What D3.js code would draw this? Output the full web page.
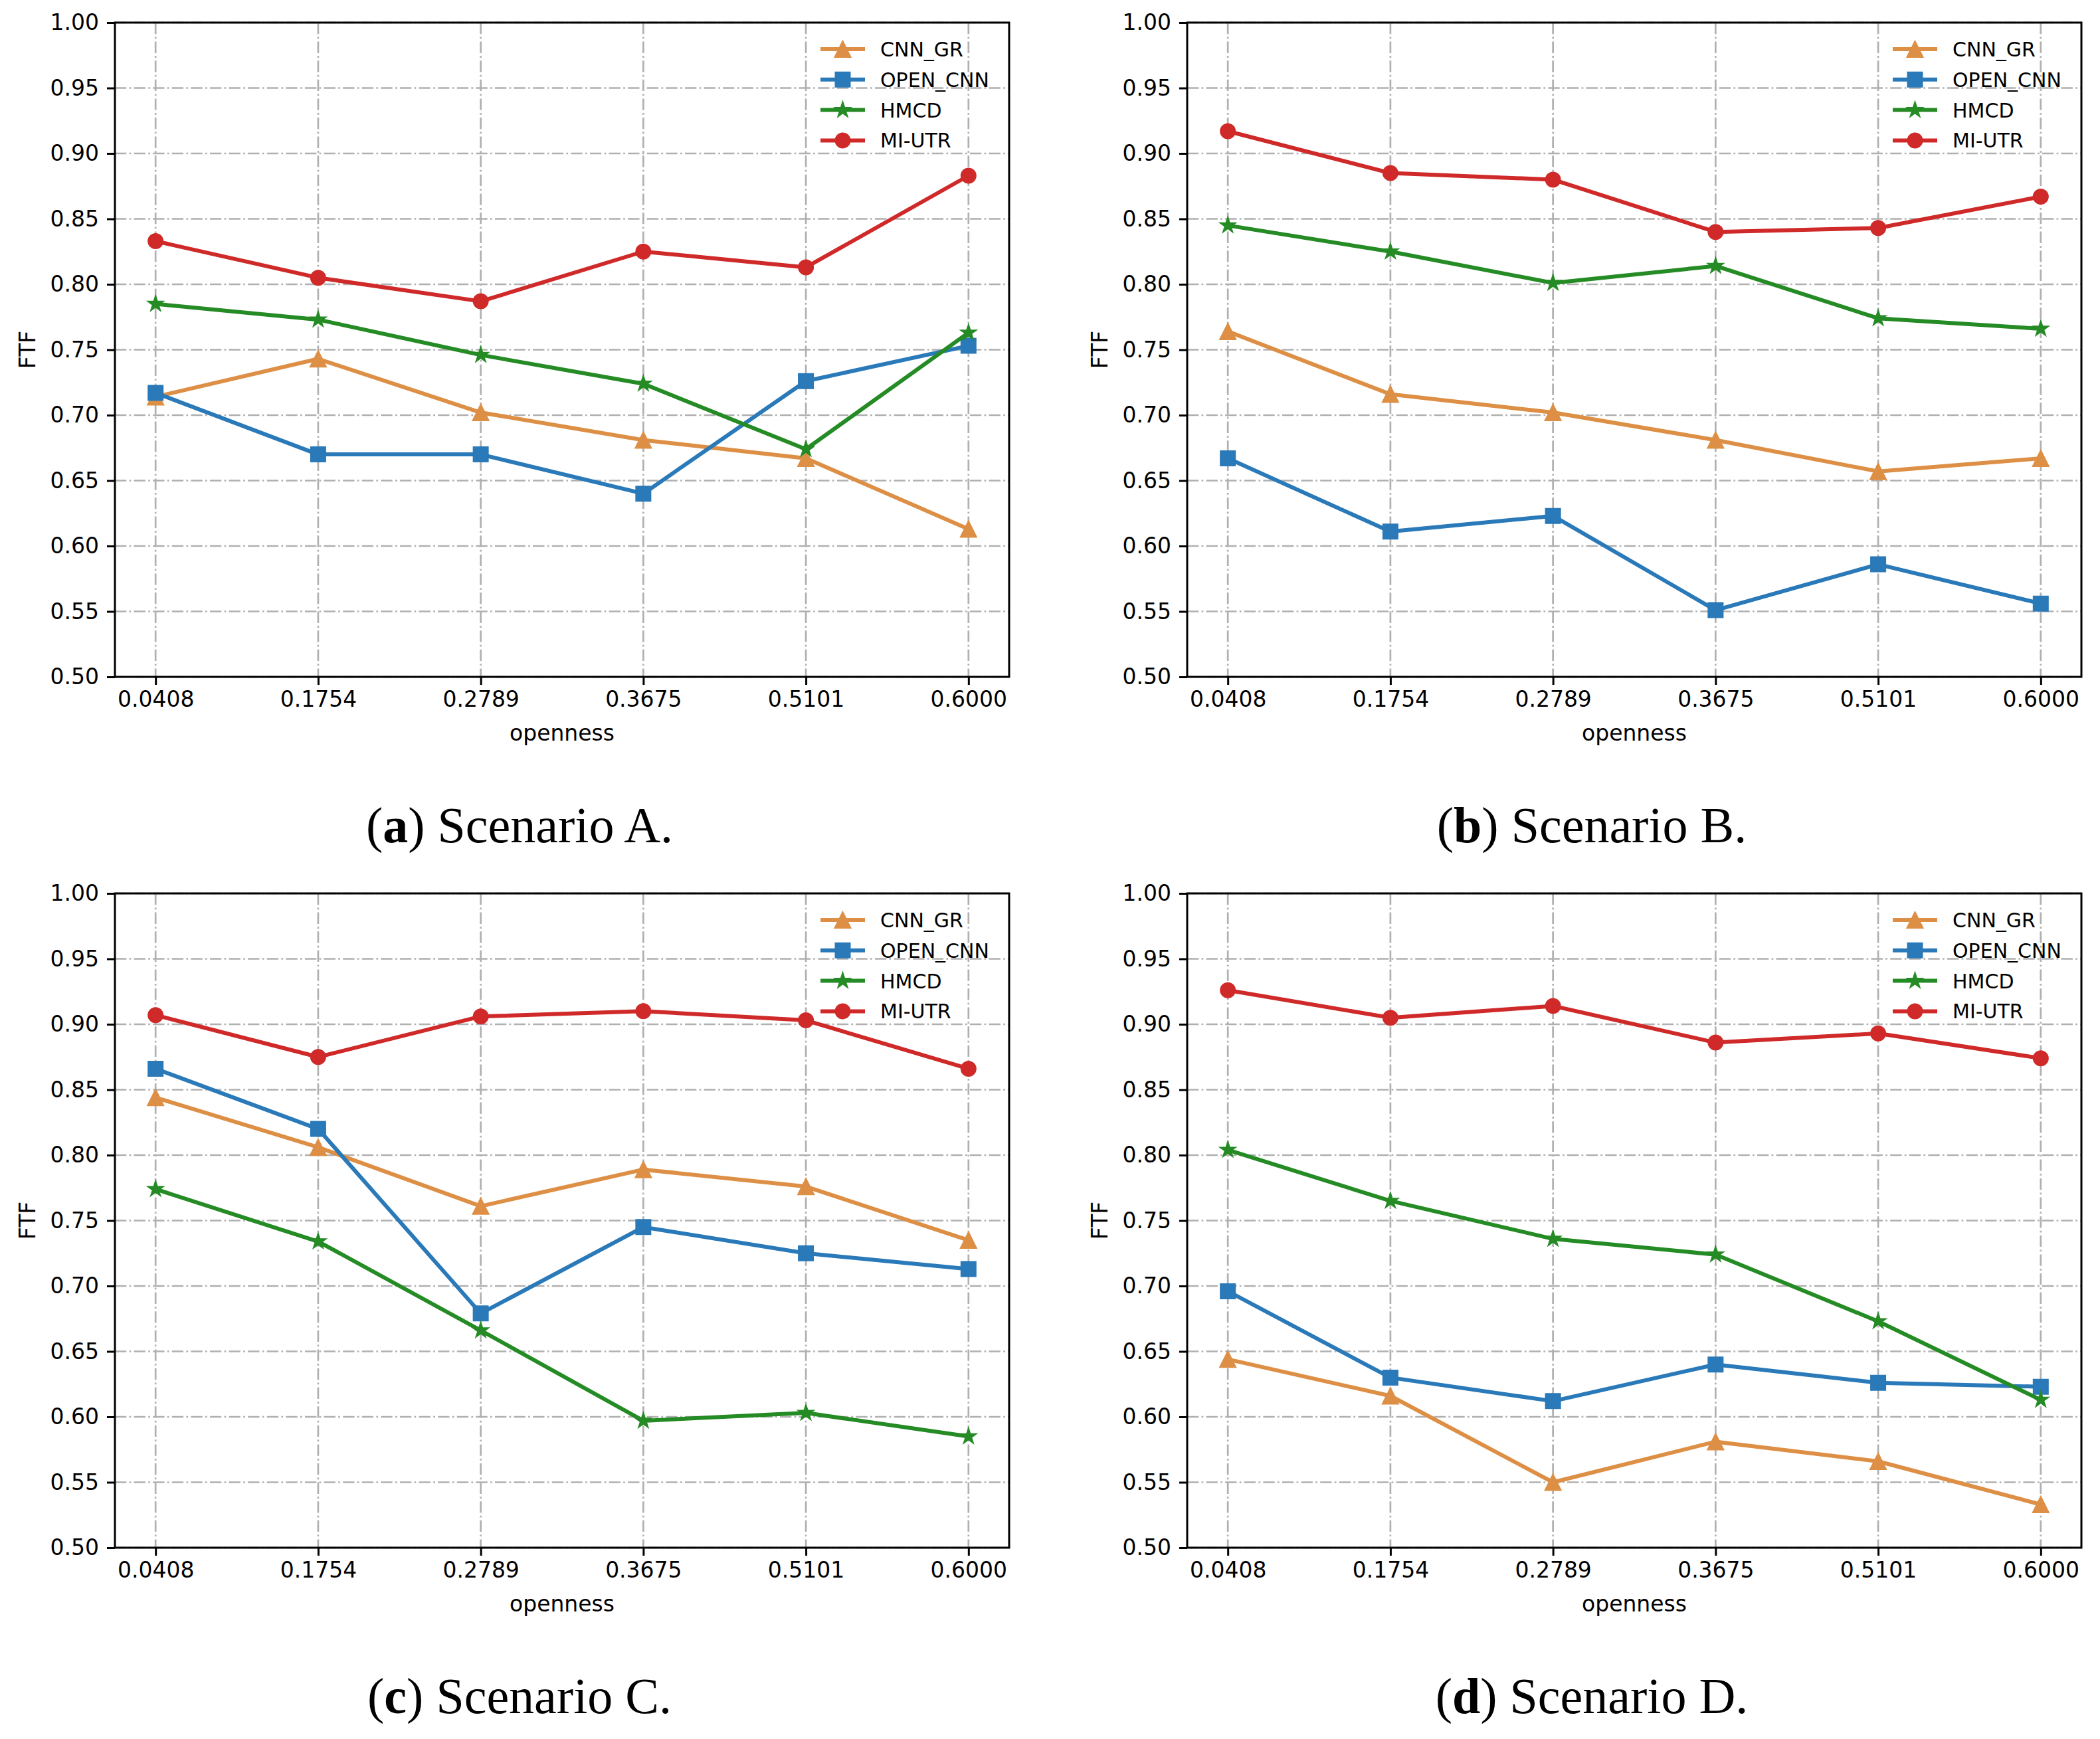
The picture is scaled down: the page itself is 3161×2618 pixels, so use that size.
<!DOCTYPE html>
<html>
<head>
<meta charset="utf-8">
<title>FTF vs openness</title>
<script src="https://cdn.jsdelivr.net/npm/d3@7"></script>
<style>
body { margin: 0; padding: 0; background: white; }
svg { display: block; }
.tick text { font-family: "DejaVu Sans", sans-serif; }
</style>
</head>
<body>
<svg id="chart" width="3161" height="2618"></svg>
<script>

// x categories and y ticks
var openness = ["0.0408", "0.1754", "0.2789", "0.3675", "0.5101", "0.6000"];
var yTicks = [0.50, 0.55, 0.60, 0.65, 0.70, 0.75, 0.80, 0.85, 0.90, 0.95, 1.00];
var methods = ["CNN_GR", "OPEN_CNN", "HMCD", "MI-UTR"];

// Scenario A
var cnnGrA   = [0.714, 0.743, 0.702, 0.681, 0.667, 0.613];
var openCnnA = [0.717, 0.670, 0.670, 0.640, 0.726, 0.753];
var hmcdA    = [0.785, 0.773, 0.746, 0.724, 0.674, 0.763];
var miUtrA   = [0.833, 0.805, 0.787, 0.825, 0.813, 0.883];

// Scenario B
var cnnGrB   = [0.764, 0.716, 0.702, 0.681, 0.657, 0.667];
var openCnnB = [0.667, 0.611, 0.623, 0.551, 0.586, 0.556];
var hmcdB    = [0.845, 0.825, 0.801, 0.814, 0.774, 0.766];
var miUtrB   = [0.917, 0.885, 0.880, 0.840, 0.843, 0.867];

// Scenario C
var cnnGrC   = [0.844, 0.806, 0.761, 0.789, 0.776, 0.735];
var openCnnC = [0.866, 0.820, 0.679, 0.745, 0.725, 0.713];
var hmcdC    = [0.774, 0.734, 0.666, 0.597, 0.603, 0.585];
var miUtrC   = [0.907, 0.875, 0.906, 0.910, 0.903, 0.866];

// Scenario D
var cnnGrD   = [0.644, 0.616, 0.550, 0.581, 0.566, 0.533];
var openCnnD = [0.696, 0.630, 0.612, 0.640, 0.626, 0.623];
var hmcdD    = [0.804, 0.765, 0.736, 0.724, 0.673, 0.613];
var miUtrD   = [0.926, 0.905, 0.914, 0.886, 0.893, 0.874];

var captionLetters = ["a", "b", "c", "d"];
var captionNames = ["Scenario A.", "Scenario B.", "Scenario C.", "Scenario D."];

var colors = ["#dd8f45", "#2a79b8", "#258b25", "#cf2a29"];
var shapes = ["triangle", "square", "star", "circle"];

var panels = [
  {series: [cnnGrA, openCnnA, hmcdA, miUtrA], left: 173, top: 34},
  {series: [cnnGrB, openCnnB, hmcdB, miUtrB], left: 1787, top: 34},
  {series: [cnnGrC, openCnnC, hmcdC, miUtrC], left: 173, top: 1345},
  {series: [cnnGrD, openCnnD, hmcdD, miUtrD], left: 1787, top: 1345}
];

var width = 1346, height = 985;
var gridDash = "17.3,4.3,2.7,4.3";

var svg = d3.select("#chart");

function markerPath(shape) {
  if (shape == "triangle") return "M0,-12L12,12L-12,12Z";
  if (shape == "square") return "M-11,-11H11V11H-11Z";
  if (shape == "circle") return "M11,0A11,11 0 1,1 -11,0A11,11 0 1,1 11,0Z";
  // 5 point star, inner ratio like matplotlib
  var R = 12, r = R * 0.381966, pts = [];
  for (var i = 0; i < 10; i++) {
    var a = -Math.PI / 2 + i * Math.PI / 5;
    var rr = i % 2 == 0 ? R : r;
    pts.push([rr * Math.cos(a), rr * Math.sin(a)]);
  }
  return "M" + pts.map(function(p) { return p[0].toFixed(2) + "," + p[1].toFixed(2); }).join("L") + "Z";
}

panels.forEach(function(p, pi) {
  var g = svg.append("g").attr("transform", "translate(" + p.left + "," + p.top + ")");

  var x = d3.scalePoint().domain(openness).range([0, width]).padding(0.25);
  var y = d3.scaleLinear().domain([0.5, 1.0]).range([height, 0]);

  // grid
  g.append("g").selectAll("line").data(yTicks).enter().append("line")
    .attr("x1", 0).attr("x2", width)
    .attr("y1", function(d) { return y(d); }).attr("y2", function(d) { return y(d); })
    .attr("stroke", "#b0b0b0").attr("stroke-width", 2.7).attr("stroke-dasharray", gridDash);
  g.append("g").selectAll("line").data(openness).enter().append("line")
    .attr("y1", 0).attr("y2", height)
    .attr("x1", function(d) { return x(d); }).attr("x2", function(d) { return x(d); })
    .attr("stroke", "#b0b0b0").attr("stroke-width", 2.7).attr("stroke-dasharray", gridDash);

  // lines + markers
  var line = d3.line()
    .x(function(d, i) { return x(openness[i]); })
    .y(function(d) { return y(d); });

  p.series.forEach(function(vals, si) {
    var sg = g.append("g");
    sg.append("path").datum(vals)
      .attr("d", line)
      .attr("fill", "none")
      .attr("stroke", colors[si])
      .attr("stroke-width", 6)
      .attr("stroke-linejoin", "round");
    sg.selectAll(".mk").data(vals).enter().append("path")
      .attr("class", "mk")
      .attr("d", markerPath(shapes[si]))
      .attr("transform", function(d, i) { return "translate(" + x(openness[i]) + "," + y(d) + ")"; })
      .attr("fill", colors[si])
      .attr("stroke", colors[si])
      .attr("stroke-width", 2);
  });

  // axes
  var xAxis = d3.axisBottom(x).tickSize(12).tickPadding(10);
  var yAxis = d3.axisLeft(y).tickValues(yTicks).tickFormat(d3.format(".2f")).tickSize(12).tickPadding(12);

  var gx = g.append("g").attr("transform", "translate(0," + height + ")").call(xAxis);
  var gy = g.append("g").call(yAxis);
  [gx, gy].forEach(function(ax) {
    ax.select(".domain").remove();
    ax.selectAll(".tick line").attr("stroke", "black").attr("stroke-width", 3);
    ax.selectAll(".tick text").attr("fill", "black").style("font-size", "33px");
  });

  // frame
  g.append("rect").attr("x", 0).attr("y", 0).attr("width", width).attr("height", height)
    .attr("fill", "none").attr("stroke", "black").attr("stroke-width", 3);

  // axis labels
  g.append("text")
    .attr("x", width / 2).attr("y", 1115 - 34)
    .attr("text-anchor", "middle")
    .style("font-family", "DejaVu Sans").style("font-size", "33px")
    .text("openness");
  g.append("text")
    .attr("transform", "translate(" + (-132 + 12) + "," + (height / 2) + ") rotate(-90)")
    .attr("text-anchor", "middle")
    .style("font-family", "DejaVu Sans").style("font-size", "33px")
    .text("FTF");

  // legend (no frame)
  var lg = g.append("g").attr("transform", "translate(" + (width - 284) + ",40)");
  methods.forEach(function(m, si) {
    var row = lg.append("g").attr("transform", "translate(0," + (si * 45.8) + ")");
    row.append("line").attr("x1", 0).attr("x2", 67).attr("y1", 0).attr("y2", 0)
      .attr("stroke", colors[si]).attr("stroke-width", 6);
    row.append("path").attr("d", markerPath(shapes[si]))
      .attr("transform", "translate(33.5,0)")
      .attr("fill", colors[si]).attr("stroke", colors[si]).attr("stroke-width", 2);
    row.append("text").attr("x", 90).attr("y", 11)
      .style("font-family", "DejaVu Sans").style("font-size", "30px")
      .text(m);
  });

  // caption below subfigure
  var cap = g.append("text")
    .attr("x", 609).attr("y", 1268 - 34)
    .attr("text-anchor", "middle")
    .style("font-family", "Liberation Serif").style("font-size", "76px");
  cap.append("tspan").text("(");
  cap.append("tspan").style("font-weight", "bold").text(captionLetters[pi]);
  cap.append("tspan").text(") " + captionNames[pi]);
});

</script>
</body>
</html>
